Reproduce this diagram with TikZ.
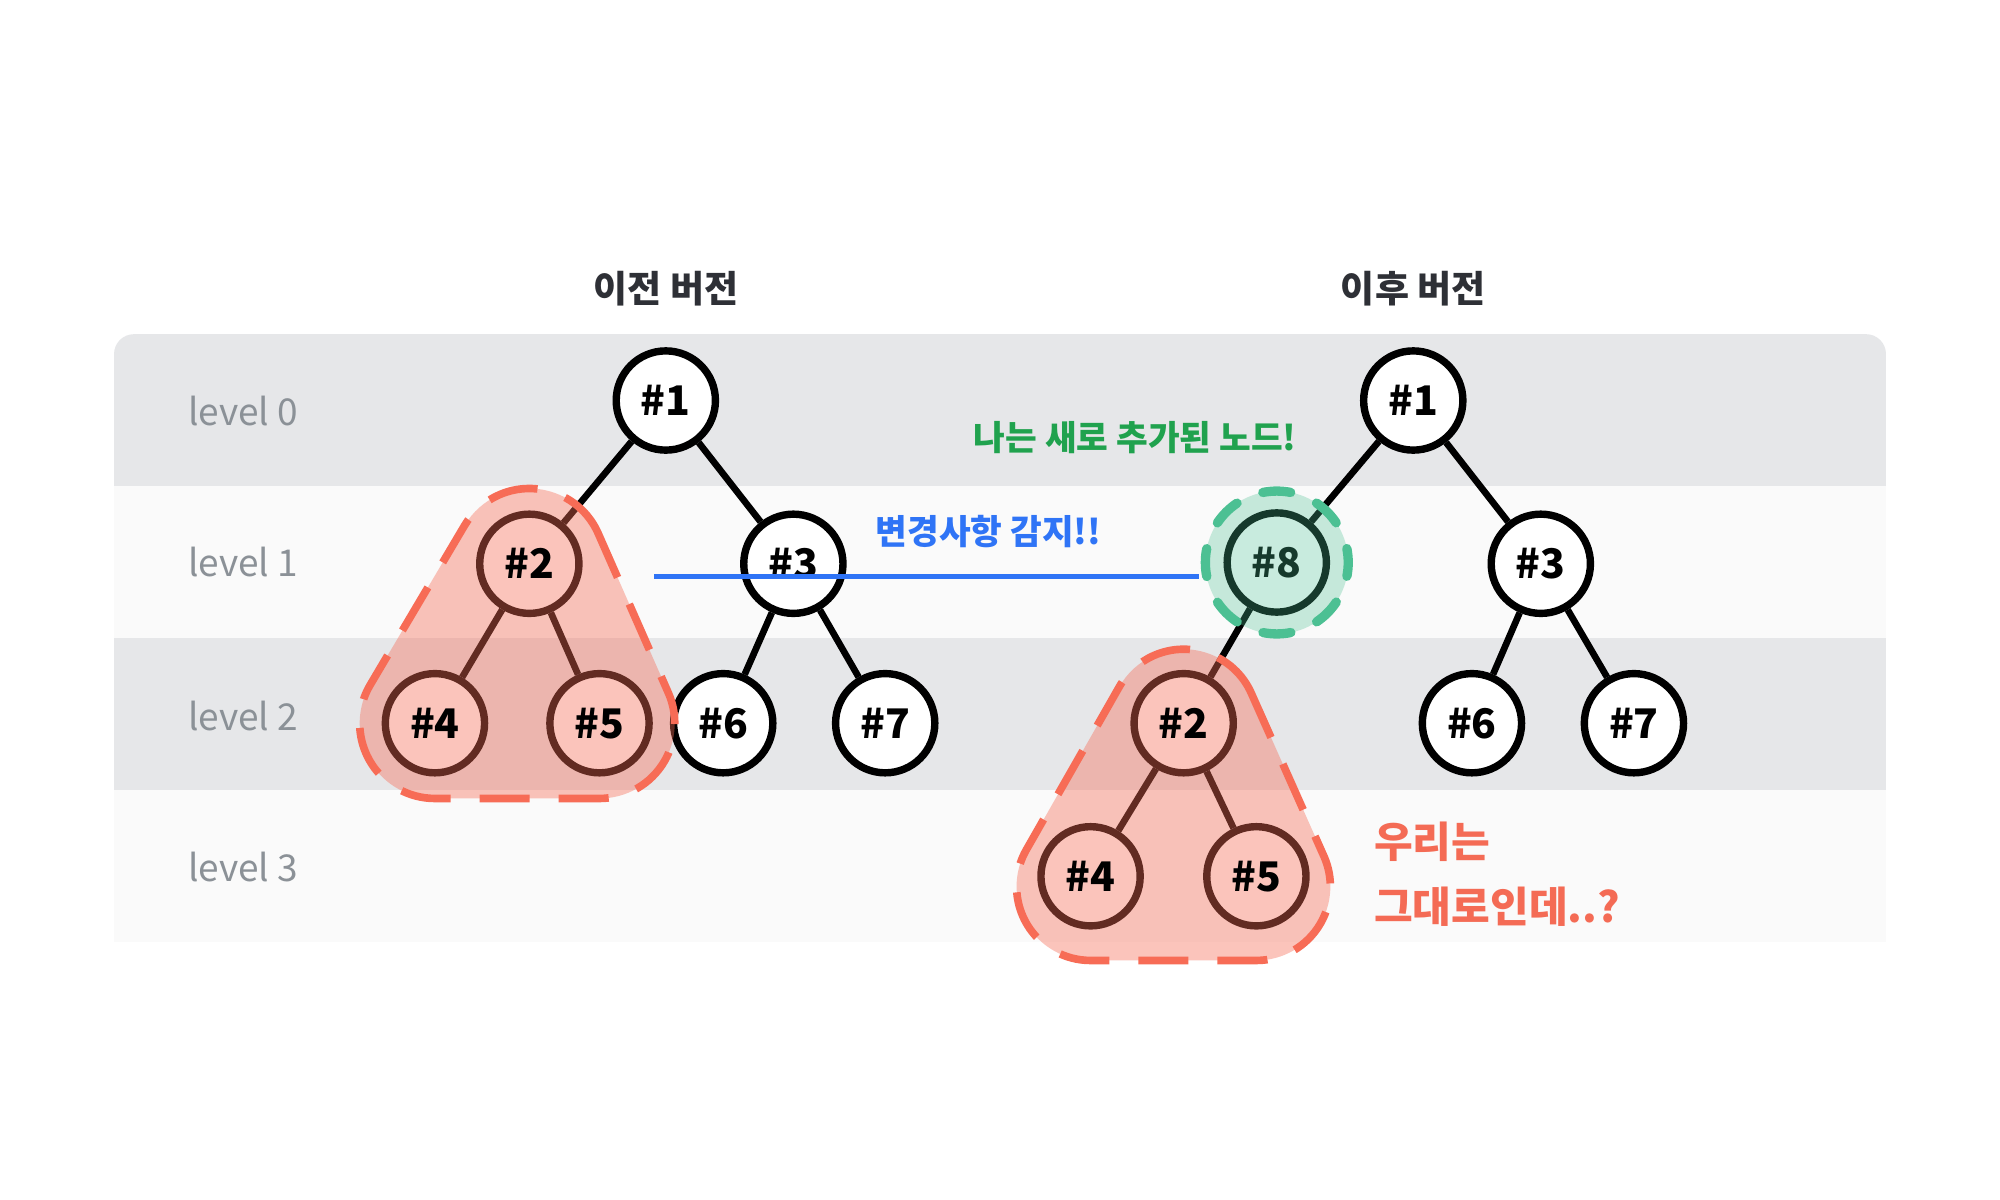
\documentclass[tikz,border=0pt]{standalone}
\usepackage{fontspec}
\setmainfont{Noto Sans CJK KR}
\usetikzlibrary{calc}
\definecolor{bandgray}{HTML}{E6E7E9}
\definecolor{bandlight}{HTML}{FAFAFA}
\definecolor{titlecol}{HTML}{2E3036}
\definecolor{levelcol}{HTML}{8B9197}
\definecolor{coral}{HTML}{F76C56}
\definecolor{coraltext}{HTML}{F46B55}
\definecolor{mint}{HTML}{4CC093}
\definecolor{greentext}{HTML}{20A24E}
\definecolor{bluecol}{HTML}{2F74F6}
\begin{document}
\begin{tikzpicture}[x=0.5pt,y=0.5pt,
  tnode/.style={circle, draw=black, fill=white, line width=2.9pt, minimum size=38.9pt, inner sep=0pt,
    font=\fontsize{16pt}{19pt}\selectfont\bfseries},
  nlabel/.style={font=\fontsize{16pt}{19pt}\selectfont\bfseries, text=black, inner sep=0pt},
  treeedge/.style={line width=2.6pt, draw=black},
  levellbl/.style={anchor=west, font=\fontsize{14.5pt}{17pt}\selectfont, text=levelcol, inner sep=0pt},
  vtitle/.style={font=\fontsize{14.5pt}{17pt}\selectfont\bfseries, text=titlecol, inner sep=0pt},
  blob/.style={fill=coral, fill opacity=0.4, draw=coral, draw opacity=1, line width=3pt,
    dash pattern=on 19.6pt off 11.4pt},
  newring/.style={circle, minimum size=56pt, inner sep=0pt, fill=mint, fill opacity=0.3,
    draw=mint, draw opacity=1, line width=3.65pt, dash pattern=on 11pt off 11pt, dash phase=5.5pt,
    line cap=round},
  note/.style={inner sep=0pt, font=\fontsize{13.5pt}{16pt}\selectfont\bfseries},
  samenote/.style={inner sep=0pt, anchor=west, text=coraltext, font=\fontsize{16.5pt}{20pt}\selectfont\bfseries},
]
\fill[white] (0,0) rectangle (1568,-940.8);
\useasboundingbox (0,0) rectangle (1568,-940.8);

% bands
\fill[bandgray, rounded corners=7.8pt] (89.4,-381) -- (89.4,-262) -- (1478.6,-262) -- (1478.6,-381);
\fill[bandlight] (89.4,-381) rectangle (1478.6,-500);
\fill[bandgray] (89.4,-500) rectangle (1478.6,-619);
\fill[bandlight] (89.4,-619) rectangle (1478.6,-738.5);

% level labels
\node[levellbl] (lv0) at (147,-322) {level 0};
\node[levellbl] (lv1) at (147,-441) {level 1};
\node[levellbl] (lv2) at (147,-561) {level 2};
\node[levellbl] (lv3) at (147,-680) {level 3};

% titles
\node[vtitle] (t1) at (522,-226) {이전 버전};
\node[vtitle] (t2) at (1108,-226) {이후 버전};

% left tree
\node[tnode] (a1) at (522,-314) {\#1};
\node[tnode] (a2) at (415,-442) {};
\node[tnode] (a3) at (622,-442) {\#3};
\node[tnode] (a4) at (341,-567) {};
\node[tnode] (a5) at (470,-567) {};
\node[tnode] (a6) at (567,-567) {\#6};
\node[tnode] (a7) at (694,-567) {\#7};
\draw[treeedge] (a1) -- (a2);
\draw[treeedge] (a1) -- (a3);
\draw[treeedge] (a2) -- (a4);
\draw[treeedge] (a2) -- (a5);
\draw[treeedge] (a3) -- (a6);
\draw[treeedge] (a3) -- (a7);

% right tree
\node[tnode] (b1) at (1108,-314) {\#1};
\node[tnode] (b8) at (1001,-441) {\#8};
\node[tnode] (b3) at (1208,-442) {\#3};
\node[tnode] (b2) at (928,-567) {};
\node[tnode] (b4) at (855,-687) {};
\node[tnode] (b5) at (985,-687) {};
\node[tnode] (b6) at (1154,-567) {\#6};
\node[tnode] (b7) at (1281,-567) {\#7};
\draw[treeedge] (b1) -- (b8);
\draw[treeedge] (b1) -- (b3);
\draw[treeedge] (b8) -- (b2);
\draw[treeedge] (b2) -- (b4);
\draw[treeedge] (b2) -- (b5);
\draw[treeedge] (b3) -- (b6);
\draw[treeedge] (b3) -- (b7);

% change detection line
\coordinate (bl0) at (513,-452);
\coordinate (bl1) at (940,-452);
\draw[bluecol, line width=1.8pt] (bl0) -- (bl1);

% new node highlight
\node[newring] (g8) at (b8.center) {};

% unchanged subtree blobs
\draw[blob] ($(a2.center)+(23.58:29.5pt)$)
  arc[start angle=23.58, end angle=149.57, radius=29.5pt]
  -- ($(a4.center)+(149.57:29.5pt)$)
  arc[start angle=149.57, end angle=270, radius=29.5pt]
  -- ($(a5.center)+(270:29.5pt)$)
  arc[start angle=270, end angle=383.58, radius=29.5pt]
  -- cycle;
\draw[blob] ($(b2.center)+(23.84:29pt)$)
  arc[start angle=23.84, end angle=150.5, radius=29pt]
  -- ($(b4.center)+(0,-8)+(150.5:29pt)$)
  arc[start angle=150.5, end angle=270, radius=29pt]
  -- ($(b5.center)+(0,-8)+(270:29pt)$)
  arc[start angle=270, end angle=383.84, radius=29pt]
  -- cycle;

% labels of nodes inside the blobs
\node[nlabel] (a2t) at (a2.center) {\#2};
\node[nlabel] (a4t) at (a4.center) {\#4};
\node[nlabel] (a5t) at (a5.center) {\#5};
\node[nlabel] (b2t) at (b2.center) {\#2};
\node[nlabel] (b4t) at (b4.center) {\#4};
\node[nlabel] (b5t) at (b5.center) {\#5};

% notes
\node[note, text=greentext] (newnote) at (890,-343) {나는 새로 추가된 노드!};
\node[note, text=bluecol] (chgnote) at (775,-417) {변경사항 감지!!};
\node[samenote] (same1) at (1077,-660) {우리는};
\node[samenote] (same2) at (1077,-711) {그대로인데..?};
\end{tikzpicture}
\end{document}
